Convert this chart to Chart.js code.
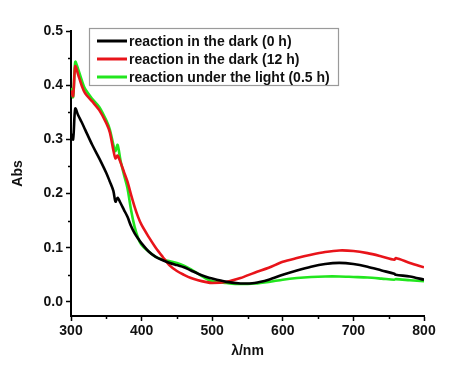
<!DOCTYPE html>
<html>
<head>
<meta charset="utf-8">
<script src="https://cdn.jsdelivr.net/npm/chart.js@4/dist/chart.umd.min.js"></script>
<style>
html,body{margin:0;padding:0;background:#fff;}
#wrap{width:451px;height:366px;position:relative;}
</style>
</head>
<body>
<div id="wrap"><canvas id="c" width="451" height="366"></canvas></div>
<script>
const wavelengths = [300,303,306,310,315,320,330,340,350,355,360,363,366,370,375,380,385,390,395,400,410,420,430,440,450,460,470,480,490,500,520,540,560,580,600,620,640,660,680,700,720,740,758,760,780,800];
const dark0h  = [0.31,0.30,0.357,0.345,0.332,0.318,0.29,0.265,0.238,0.222,0.205,0.185,0.192,0.183,0.17,0.157,0.14,0.127,0.117,0.108,0.093,0.083,0.077,0.072,0.068,0.064,0.058,0.052,0.047,0.043,0.037,0.034,0.035,0.041,0.05,0.058,0.065,0.07,0.072,0.07,0.065,0.058,0.052,0.05,0.047,0.041];
const dark12h = [0.39,0.38,0.435,0.42,0.40,0.385,0.37,0.354,0.33,0.313,0.28,0.265,0.27,0.258,0.24,0.222,0.198,0.176,0.157,0.142,0.12,0.1,0.083,0.067,0.057,0.05,0.044,0.04,0.037,0.035,0.037,0.044,0.054,0.063,0.074,0.081,0.087,0.092,0.095,0.094,0.09,0.084,0.078,0.081,0.072,0.064];
const light05h = [0.395,0.378,0.443,0.43,0.41,0.393,0.375,0.36,0.335,0.318,0.29,0.278,0.29,0.262,0.235,0.21,0.17,0.139,0.118,0.105,0.093,0.083,0.078,0.075,0.072,0.067,0.06,0.052,0.044,0.038,0.035,0.033,0.034,0.037,0.041,0.044,0.046,0.047,0.047,0.046,0.045,0.043,0.041,0.042,0.04,0.038];
const seriesLabels = ['reaction in the dark (0 h)','reaction in the dark (12 h)','reaction under the light (0.5 h)'];
const seriesColors = ['#000000','#e8141a','#22e61e'];
const xTicks = [300,400,500,600,700,800];
const yTicks = [0.0,0.1,0.2,0.3,0.4,0.5];

const FONT = '"Liberation Sans", Arial, sans-serif';
function pts(arr){ return wavelengths.map((w,i)=>({x:w,y:arr[i]})); }

const minorTicks = {
  id:'minorTicks',
  afterDraw(chart){
    const ctx = chart.ctx, xs = chart.scales.x, ys = chart.scales.y;
    ctx.save();
    ctx.strokeStyle = '#000'; ctx.lineWidth = 1.5;
    for (let i=0;i<yTicks.length-1;i++){
      const v = (yTicks[i]+yTicks[i+1])/2;
      const p = Math.round(ys.getPixelForValue(v))+0.5;
      ctx.beginPath(); ctx.moveTo(ys.right-3,p); ctx.lineTo(ys.right,p); ctx.stroke();
    }
    for (let i=0;i<xTicks.length-1;i++){
      const v = (xTicks[i]+xTicks[i+1])/2;
      const p = Math.round(xs.getPixelForValue(v))+0.5;
      ctx.beginPath(); ctx.moveTo(p,xs.top); ctx.lineTo(p,xs.top+3); ctx.stroke();
    }
    ctx.restore();
  }
};

const boxLegend = {
  id:'boxLegend',
  afterDraw(chart){
    const ctx = chart.ctx;
    const x0 = 89, y0 = 28, w = 249, h = 57;
    ctx.save();
    ctx.fillStyle = '#fff';
    ctx.fillRect(x0,y0,w,h);
    ctx.strokeStyle = '#9a9a9a'; ctx.lineWidth = 1.2;
    ctx.strokeRect(x0+0.5,y0+0.5,w,h);
    ctx.font = 'bold 14px ' + FONT;
    ctx.textBaseline = 'middle';
    chart.data.datasets.forEach((ds,i)=>{
      const y = y0 + 13 + i*18;
      ctx.strokeStyle = ds.borderColor; ctx.lineWidth = 3;
      ctx.beginPath(); ctx.moveTo(97,y); ctx.lineTo(127,y); ctx.stroke();
      ctx.fillStyle = '#111';
      ctx.fillText(ds.label, 129, y+1);
    });
    ctx.restore();
  }
};

new Chart(document.getElementById('c'), {
  type:'line',
  data:{
    datasets:[
      {label:seriesLabels[0], data:pts(dark0h), borderColor:seriesColors[0], borderWidth:2.6, pointRadius:0, tension:0.3, fill:false},
      {label:seriesLabels[1], data:pts(dark12h), borderColor:seriesColors[1], borderWidth:2.6, pointRadius:0, tension:0.3, fill:false},
      {label:seriesLabels[2], data:pts(light05h), borderColor:seriesColors[2], borderWidth:2.6, pointRadius:0, tension:0.3, fill:false}
    ]
  },
  options:{
    responsive:false,
    animation:false,
    layout:{padding:{left:0,right:27,top:31,bottom:0}},
    plugins:{legend:{display:false}, tooltip:{enabled:false}},
    scales:{
      x:{
        type:'linear', min:300, max:800,
        afterBuildTicks(s){ s.ticks = xTicks.map(v=>({value:v})); },
        afterFit(s){ s.height = 50; },
        grid:{display:true, drawOnChartArea:false, drawTicks:true, tickLength:5, tickWidth:1.5, tickColor:'#000'},
        border:{display:true, color:'#000', width:2},
        ticks:{color:'#111', font:{family:FONT, size:14, weight:'bold'}, padding:2, maxRotation:0, callback:v=>String(v)},
        title:{display:true, text:'λ/nm', color:'#111', font:{family:FONT, size:14, weight:'bold'}, padding:{top:2,bottom:6}}
      },
      y:{
        type:'linear', min:-0.026, max:0.5,
        afterBuildTicks(s){ s.ticks = yTicks.map(v=>({value:v})); },
        afterFit(s){ s.width = 71; },
        grid:{display:true, drawOnChartArea:false, drawTicks:true, tickLength:5, tickWidth:1.5, tickColor:'#000'},
        border:{display:true, color:'#000', width:2},
        ticks:{color:'#111', font:{family:FONT, size:14, weight:'bold'}, padding:3, callback:v=>Number(v).toFixed(1)},
        title:{display:true, text:'Abs', color:'#111', font:{family:FONT, size:14, weight:'bold'}, padding:{top:10,bottom:8}}
      }
    }
  },
  plugins:[minorTicks, boxLegend]
});
</script>
</body>
</html>
